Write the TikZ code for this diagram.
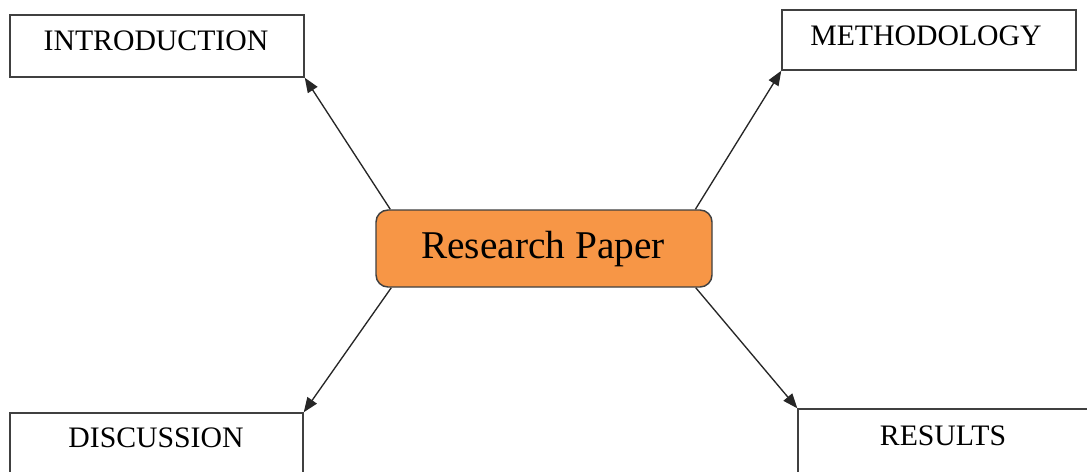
\documentclass[tikz,border=0pt]{standalone}
\usepackage{fontspec}
\setmainfont{Liberation Serif}
\usetikzlibrary{arrows.meta}
\definecolor{paperorange}{HTML}{F79646}
\definecolor{edgegray}{HTML}{404040}
\tikzset{
  secbox/.style={draw=edgegray, line width=1.1pt, fill=white, inner sep=0pt},
  sectext/.style={font=\fontsize{22.3}{26}\selectfont, anchor=base, inner sep=0pt},
  mainbox/.style={draw=edgegray, line width=1.1pt, fill=paperorange, rounded corners=9pt, inner sep=0pt,
    minimum width=252pt, minimum height=57.75pt},
  maintext/.style={font=\fontsize{29.5}{34}\selectfont, anchor=base, inner sep=0pt},
  link/.style={draw=black!85, line width=1pt, -{Triangle[length=11pt,width=8.5pt]}}
}
\begin{document}
\begin{tikzpicture}[x=0.75pt, y=-0.75pt]
\useasboundingbox (0,0) rectangle (1087,471);
\clip (0,0) rectangle (1087,471);
\fill[white] (0,0) rectangle (1087,471);
% boxes
\node[secbox, minimum width=220.5pt, minimum height=46.5pt] (intro) at (157,46) {};
\node[secbox, minimum width=220.5pt, minimum height=45pt] (meth) at (929,40) {};
\node[secbox, minimum width=219.75pt, minimum height=52.5pt] (disc) at (156.5,448) {};
\node[secbox, minimum width=225pt, minimum height=52.5pt] (res) at (948,444) {};
\node[mainbox] (paper) at (544,248.5) {};
% texts
\node[sectext] (introtxt) at (156,50) {INTRODUCTION};
\node[sectext] (methtxt) at (926,45) {METHODOLOGY};
\node[sectext] (disctxt) at (156,447) {DISCUSSION};
\node[sectext] (restxt) at (943,445) {RESULTS};
\node[maintext] (papertxt) at (543,258) {Research Paper};
% connectors
\draw[link] ([xshift=11.25pt]paper.north west) -- (intro.south east);
\draw[link] ([xshift=-13pt]paper.north east) -- (meth.south west);
\draw[link] ([xshift=12pt]paper.south west) -- (disc.north east);
\draw[link] ([xshift=-12.75pt]paper.south east) -- (res.north west);
\end{tikzpicture}
\end{document}
